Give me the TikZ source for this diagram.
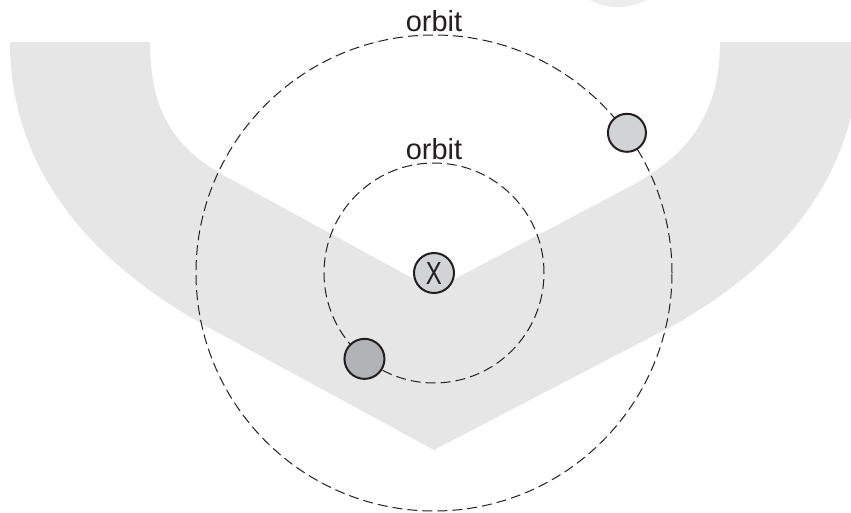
\documentclass[tikz,border=0pt]{standalone}
\usepackage{fontspec}
\setmainfont{Liberation Sans}
\newfontfamily\narrowfont[FakeStretch=0.75]{Liberation Sans}
\definecolor{ink}{HTML}{231F20}
\definecolor{markgray}{HTML}{E6E6E6}
\definecolor{lightfill}{HTML}{D1D3D4}
\definecolor{darkfill}{HTML}{B1B3B6}
\begin{document}
\begin{tikzpicture}[x=1pt,y=1pt,
  orbit/.style={circle,draw=ink,line width=1pt,dash pattern=on 10pt off 5pt,inner sep=0pt},
  planet/.style={circle,draw=ink,line width=2pt,minimum size=38pt,inner sep=0pt},
  orbitlabel/.style={anchor=base,text=ink,font=\fontsize{29}{34}\selectfont,inner sep=0pt}]
\useasboundingbox (-434,-240) rectangle (417,273);
\fill[markgray] (-424,231) -- (-284,231) .. controls (-284,150) and (-250,118) .. (-200,92)
  -- (0,-17) -- (195,86) .. controls (245,113) and (286,150) .. (286,231)
  -- (426,231) .. controls (426,100) and (350,10) .. (240,-52)
  -- (0,-177) -- (-230,-52) .. controls (-340,10) and (-424,100) .. cycle;
\fill[markgray!70] (184,327) circle (61);
\node[orbit,minimum size=476pt] (outer) at (0,0) {};
\node[orbit,minimum size=220pt] (inner) at (0,0) {};
\node[planet,fill=lightfill,minimum size=40pt,text=ink,font=\narrowfont\fontsize{32}{36}\selectfont] (x) at (0,0) {X};
\node[planet,fill=lightfill] (1) at (outer.36.5) {};
\node[planet,fill=darkfill,minimum size=40pt] (2) at (inner.231.6) {};
\node[orbitlabel] (o1) at ([yshift=3pt]outer.north) {orbit};
\node[orbitlabel] (o2) at ([yshift=3pt]inner.north) {orbit};
\end{tikzpicture}
\end{document}
